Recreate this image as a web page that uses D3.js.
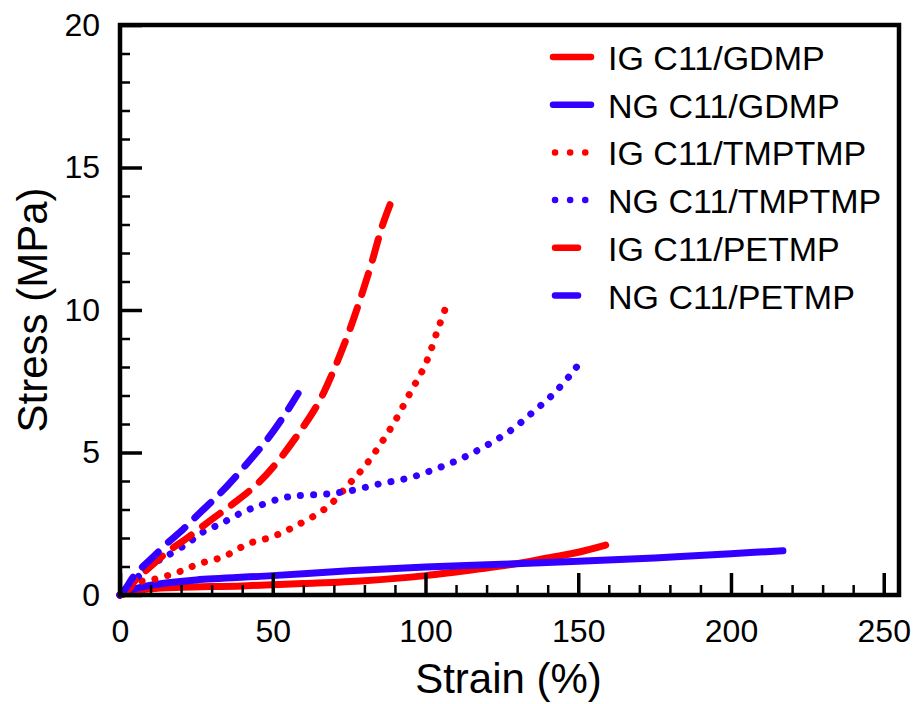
<!DOCTYPE html>
<html>
<head>
<meta charset="utf-8">
<script src="https://cdn.jsdelivr.net/npm/d3@7/dist/d3.min.js"></script>
<style>
  html, body { margin: 0; padding: 0; background: #fff; }
  svg { display: block; font-family: "Liberation Sans", Arial, Helvetica, sans-serif; }
</style>
</head>
<body>
<svg id="chart" width="917" height="704"></svg>
<script>
// Stress–strain curves, [strain %, stress MPa]
const igGdmp = [[0,0],[5,0.15],[10,0.22],[20,0.27],[40,0.32],[60,0.4],[80,0.5],[100,0.68],[120,0.95],[130,1.1],[140,1.3],[150,1.5],[159,1.75]];
const ngGdmp = [[0,0],[3,0.15],[8,0.3],[15,0.42],[25,0.53],[50,0.68],[75,0.85],[100,0.98],[125,1.08],[150,1.18],[175,1.3],[200,1.45],[217,1.55]];
const igTmptmp = [[0,0],[2,0.15],[6,0.45],[11,0.55],[19,0.8],[26,1.1],[34,1.35],[42,1.8],[50,2.05],[58,2.45],[68,3.1],[75,3.9],[80,4.5],[85,5.25],[90,6.1],[95,7.1],[100,8.1],[104,9.3],[107,10.2]];
const ngTmptmp = [[0,0],[3,0.3],[6.5,0.7],[11,1.1],[15,1.35],[22,1.8],[27,2.2],[33,2.5],[40,2.9],[46,3.15],[53,3.4],[58,3.48],[68,3.55],[75,3.65],[85,3.9],[95,4.12],[104,4.45],[112,4.8],[120,5.25],[128,5.78],[135,6.4],[142,7.07],[148,7.8],[151.5,8.3]];
const igPetmp = [[0,0],[2,0.1],[4.5,0.45],[10,1.0],[16,1.55],[22,2.0],[30,2.65],[37,3.2],[45,3.9],[51,4.6],[59,5.75],[65,6.75],[70,7.9],[75,9.25],[79,10.5],[82.5,11.7],[85.7,12.9],[88.4,13.7]];
const ngPetmp = [[0,0],[2,0.25],[4.3,0.63],[7.5,1.0],[11,1.35],[15.5,1.82],[20.6,2.3],[26,2.87],[31.7,3.45],[37,4.05],[42.5,4.73],[48,5.43],[53.4,6.24],[58.3,7.07]];

const seriesNames = ["IG C11/GDMP", "NG C11/GDMP", "IG C11/TMPTMP", "NG C11/TMPTMP", "IG C11/PETMP", "NG C11/PETMP"];
const seriesData = [igGdmp, ngGdmp, igTmptmp, ngTmptmp, igPetmp, ngPetmp];
const seriesColors = ["#ff0000", "#3300ff", "#ff0000", "#3300ff", "#ff0000", "#3300ff"];
const seriesStyles = ["solid", "solid", "dot", "dot", "dash", "dash"];

const xMajorTicks = [0, 50, 100, 150, 200, 250];
const yMajorTicks = [0, 5, 10, 15, 20];

const svg = d3.select("#chart");
const plotLeft = 120, plotRight = 899, plotTop = 25, plotBottom = 595;

const x = d3.scaleLinear().domain([0, 255]).range([plotLeft, plotRight]);
const y = d3.scaleLinear().domain([0, 20]).range([plotBottom, plotTop]);

const dashFor = { solid: null, dot: "0.1 13", dash: "22 14" };

// curves
const line = d3.line().x(d => x(d[0])).y(d => y(d[1])).curve(d3.curveCatmullRom.alpha(0.5));
seriesData.forEach((pts, i) => {
  svg.append("path")
    .attr("d", line(pts))
    .attr("fill", "none")
    .attr("stroke", seriesColors[i])
    .attr("stroke-width", 7)
    .attr("stroke-linecap", "round")
    .attr("stroke-linejoin", "round")
    .attr("stroke-dasharray", dashFor[seriesStyles[i]]);
});

// frame
svg.append("rect")
  .attr("x", plotLeft).attr("y", plotTop)
  .attr("width", plotRight - plotLeft).attr("height", plotBottom - plotTop)
  .attr("fill", "none").attr("stroke", "#000").attr("stroke-width", 4.5);

// inward ticks on bottom and left
const xMinor = d3.range(0, 251, 10).filter(v => !xMajorTicks.includes(v));
const yMinor = d3.range(0, 21, 1).filter(v => !yMajorTicks.includes(v));

const xAxis = svg.append("g").attr("transform", `translate(0,${plotBottom})`);
xAxis.call(d3.axisBottom(x).tickValues(xMajorTicks).tickSizeInner(-22).tickSizeOuter(0).tickPadding(24).tickFormat(d3.format("d")));
const xMinorG = xAxis.append("g").call(d3.axisBottom(x).tickValues(xMinor).tickSizeInner(-10).tickSizeOuter(0).tickFormat(""));

const yAxis = svg.append("g").attr("transform", `translate(${plotLeft},0)`);
yAxis.call(d3.axisLeft(y).tickValues(yMajorTicks).tickSizeInner(-22).tickSizeOuter(0).tickPadding(20).tickFormat(d3.format("d")));
const yMinorG = yAxis.append("g").call(d3.axisLeft(y).tickValues(yMinor).tickSizeInner(-10).tickSizeOuter(0).tickFormat(""));

svg.selectAll(".domain").remove();
svg.selectAll(".tick line").attr("stroke", "#000").attr("stroke-width", 3.5);
xMinorG.selectAll(".tick line").attr("stroke-width", 2.5);
yMinorG.selectAll(".tick line").attr("stroke-width", 2.5);
svg.selectAll(".tick text").attr("font-size", 32).attr("fill", "#000")
  .attr("font-family", "'Liberation Sans', Arial, sans-serif");

// axis titles
svg.append("text")
  .attr("x", (plotLeft + plotRight) / 2 - 1).attr("y", 693)
  .attr("text-anchor", "middle").attr("font-size", 42).attr("fill", "#000")
  .text("Strain (%)");
svg.append("text")
  .attr("transform", `translate(47,${(plotTop + plotBottom) / 2}) rotate(-90)`)
  .attr("text-anchor", "middle").attr("font-size", 42).attr("fill", "#000")
  .text("Stress (MPa)");

// legend
const legendLen = { solid: [553, 591], dot: [555, 589], dash: [555, 578] };
seriesNames.forEach((name, i) => {
  const ly = 57 + i * 47.7;
  const [x0, x1] = legendLen[seriesStyles[i]];
  svg.append("line")
    .attr("x1", x0).attr("x2", x1).attr("y1", ly).attr("y2", ly)
    .attr("stroke", seriesColors[i]).attr("stroke-width", 6.5)
    .attr("stroke-linecap", "round")
    .attr("stroke-dasharray", seriesStyles[i] === "dot" ? "0.1 15" : null);
  svg.append("text")
    .attr("x", 608).attr("y", ly + 13)
    .attr("font-size", 34).attr("fill", "#000")
    .text(name);
});
</script>
</body>
</html>
